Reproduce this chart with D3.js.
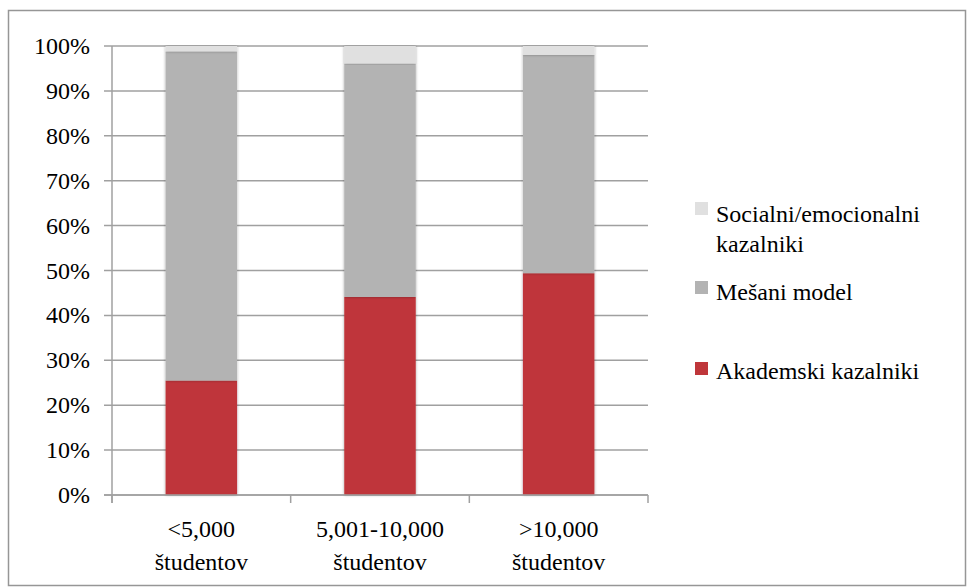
<!DOCTYPE html>
<html>
<head>
<meta charset="utf-8">
<script src="https://cdn.jsdelivr.net/npm/d3@7"></script>
<style>
  body { margin: 0; background: #fff; }
</style>
</head>
<body>
<svg id="chart"></svg>
<script>
// chart data
var categories = [['<5,000', 'študentov'], ['5,001-10,000', 'študentov'], ['>10,000', 'študentov']];
var seriesNames = ['Akademski kazalniki', 'Mešani model', 'Socialni/emocionalni kazalniki'];
var akademski = [25.5, 44.1, 49.4];
var mesani = [73.3, 52.0, 48.6];
var socialni = [1.2, 3.9, 2.0];
var yTicks = [0, 10, 20, 30, 40, 50, 60, 70, 80, 90, 100];

var colors = ['#bf363a', '#b3b3b3', '#e0e0e0'];
var fontFamily = "'Liberation Serif', Tinos, 'Times New Roman', Times, 'DejaVu Serif', 'Noto Serif', FreeSerif, serif";
var fontSize = '24px';

var canvasWidth = 968;
var canvasHeight = 588;
var margin = { top: 46, left: 112 };
var width = 536;
var height = 449;

var svg = d3.select('#chart')
    .attr('width', canvasWidth)
    .attr('height', canvasHeight)
    .style('font-family', fontFamily);

// outer frame
svg.append('rect')
    .attr('x', 8.5).attr('y', 10.5)
    .attr('width', 957).attr('height', 575)
    .attr('fill', 'none')
    .attr('stroke', '#969696')
    .attr('stroke-width', 1.5);

var defs = svg.append('defs');
var filter = defs.append('filter').attr('id', 'shadow')
    .attr('x', '-10%').attr('y', '-5%').attr('width', '120%').attr('height', '110%');
filter.append('feGaussianBlur').attr('in', 'SourceAlpha').attr('stdDeviation', 1.5).attr('result', 'blur');
filter.append('feComponentTransfer').attr('in', 'blur').attr('result', 'soft')
    .append('feFuncA').attr('type', 'linear').attr('slope', 0.35);
var merge = filter.append('feMerge');
merge.append('feMergeNode').attr('in', 'soft');
merge.append('feMergeNode').attr('in', 'SourceGraphic');

var graphArea = svg.append('g')
    .attr('transform', 'translate(' + margin.left + ',' + margin.top + ')');

var xScale = d3.scaleBand()
    .domain(d3.range(categories.length))
    .range([0, width])
    .paddingInner(0.6)
    .paddingOuter(0.3);

var yScale = d3.scaleLinear()
    .domain([0, 100])
    .range([height, 0]);

// gridlines
graphArea.selectAll('.grid')
    .data(yTicks)
    .enter()
    .append('line')
    .attr('class', 'grid')
    .attr('x1', -8)
    .attr('x2', width)
    .attr('y1', function(d){ return yScale(d); })
    .attr('y2', function(d){ return yScale(d); })
    .attr('stroke', '#a0a0a0')
    .attr('stroke-width', 1.5);

// y axis labels
graphArea.selectAll('.ylab')
    .data(yTicks)
    .enter()
    .append('text')
    .attr('class', 'ylab')
    .attr('x', -22)
    .attr('y', function(d){ return yScale(d) + 8; })
    .attr('text-anchor', 'end')
    .style('font-size', fontSize)
    .text(function(d){ return d + '%'; });

// stacked bars
var rows = categories.map(function(c, i){
    return { i: i, a: akademski[i], m: mesani[i], s: socialni[i] };
});
var stack = d3.stack().keys(['a', 'm', 's']);
var layers = stack(rows);

graphArea.selectAll('.layer')
    .data(layers)
    .enter()
    .append('g')
    .attr('class', 'layer')
    .attr('fill', function(d, i){ return colors[i]; })
    .attr('filter', 'url(#shadow)')
    .selectAll('rect')
    .data(function(d){ return d; })
    .enter()
    .append('rect')
    .attr('x', function(d){ return xScale(d.data.i); })
    .attr('width', xScale.bandwidth())
    .attr('y', function(d){ return yScale(d[1]); })
    .attr('height', function(d){ return yScale(d[0]) - yScale(d[1]); });

// axes lines
graphArea.append('line')
    .attr('x1', 0).attr('x2', 0)
    .attr('y1', 0).attr('y2', height + 8)
    .attr('stroke', '#a0a0a0').attr('stroke-width', 1.5);
graphArea.append('line')
    .attr('x1', -8).attr('x2', width)
    .attr('y1', height).attr('y2', height)
    .attr('stroke', '#a0a0a0').attr('stroke-width', 1.5);

var step = xScale.step();
graphArea.selectAll('.xtick')
    .data(d3.range(categories.length + 1))
    .enter()
    .append('line')
    .attr('class', 'xtick')
    .attr('x1', function(d){ return d * step; })
    .attr('x2', function(d){ return d * step; })
    .attr('y1', height)
    .attr('y2', height + 8)
    .attr('stroke', '#a0a0a0').attr('stroke-width', 1.5);

// x labels
var xl = graphArea.selectAll('.xlab')
    .data(categories)
    .enter()
    .append('text')
    .attr('class', 'xlab')
    .attr('text-anchor', 'middle')
    .style('font-size', fontSize);
xl.append('tspan')
    .attr('x', function(d, i){ return xScale(i) + xScale.bandwidth() / 2; })
    .attr('y', height + 42)
    .text(function(d){ return d[0]; });
xl.append('tspan')
    .attr('x', function(d, i){ return xScale(i) + xScale.bandwidth() / 2; })
    .attr('y', height + 75)
    .text(function(d){ return d[1]; });

// legend (squares sit every 80px, text follows the wrapped labels)
var legendItems = [
    { name: ['Socialni/emocionalni', 'kazalniki'], color: colors[2], box: 202, y: 222 },
    { name: ['Mešani model'], color: colors[1], box: 281, y: 300 },
    { name: ['Akademski kazalniki'], color: colors[0], box: 362, y: 379 }
];
var legend = svg.append('g');
legend.selectAll('rect')
    .data(legendItems)
    .enter()
    .append('rect')
    .attr('x', 695)
    .attr('y', function(d){ return d.box; })
    .attr('width', 13)
    .attr('height', 13)
    .attr('fill', function(d){ return d.color; });
var lt = legend.selectAll('text')
    .data(legendItems)
    .enter()
    .append('text')
    .style('font-size', fontSize);
lt.selectAll('tspan')
    .data(function(d){ return d.name.map(function(n, k){ return { n: n, y: d.y + k * 30 }; }); })
    .enter()
    .append('tspan')
    .attr('x', 716)
    .attr('y', function(d){ return d.y; })
    .text(function(d){ return d.n; });
</script>
</body>
</html>
